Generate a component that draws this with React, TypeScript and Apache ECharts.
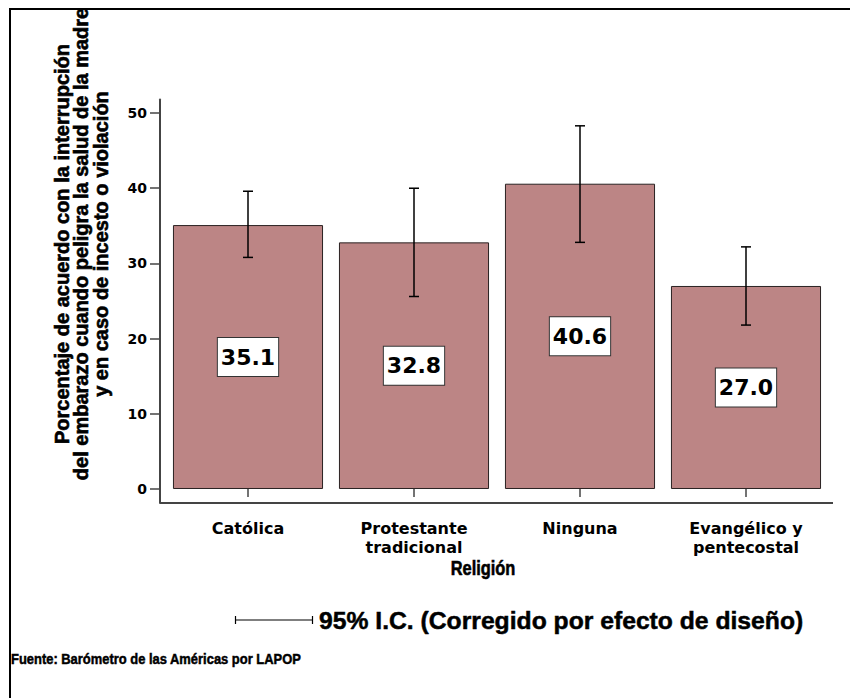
import React, { useEffect, useRef } from "react";
import * as echarts from "echarts";

const categories = ["Católica", "Protestante\ntradicional", "Ninguna", "Evangélico y\npentecostal"];
const values = [35.1, 32.8, 40.6, 27.0];
const ciLow = [30.8, 25.6, 32.8, 21.8];
const ciHigh = [39.6, 40.0, 48.3, 32.2];
const yTicks = [0, 10, 20, 30, 40, 50];
const yTitleLines = [
  "Porcentaje de acuerdo con la interrupción",
  "del embarazo cuando peligra la salud de la madre",
  "y en caso de incesto o violación",
];
const xTitle = "Religión";
const legendText = "95% I.C. (Corregido por efecto de diseño)";
const footerText = "Fuente: Barómetro de las Américas por LAPOP";

const ARIAL = "Liberation Sans";
const DEJA = "DejaVu Sans";

export default function App() {
  const ref = useRef<HTMLDivElement>(null);
  useEffect(() => {
    if (!ref.current) return;
    const chart = echarts.init(ref.current, null, { renderer: "svg" });
    const option: any = {
      animation: false,
      backgroundColor: "#ffffff",
      grid: { left: 165, right: 21, top: 99.5, bottom: 195.1, containLabel: false },
      xAxis: {
        type: "category",
        data: categories,
        axisLine: { show: false },
        axisTick: { show: true, alignWithLabel: true, length: 8, lineStyle: { color: "#444", width: 1.5 } },
        axisLabel: {
          margin: 16,
          color: "#000",
          fontFamily: DEJA,
          fontWeight: "bold",
          fontSize: 16,
          lineHeight: 19,
        },
      },
      yAxis: {
        type: "value",
        min: -1.85,
        max: 51.8,
        offset: 5,
        splitLine: { show: false },
        axisLine: { show: true, lineStyle: { color: "#444", width: 2 } },
        axisTick: { show: true, length: 10, customValues: yTicks, lineStyle: { color: "#444", width: 1.5 } },
        axisLabel: {
          customValues: yTicks,
          margin: 13,
          color: "#000",
          fontFamily: DEJA,
          fontWeight: "bold",
          fontSize: 14,
        },
      },
      series: [
        {
          type: "bar",
          data: values,
          barCategoryGap: "9.6%",
          itemStyle: { color: "#bc8585", borderColor: "#2a2222", borderWidth: 1 },
          label: {
            show: true,
            position: "inside",
            formatter: (p: any) => Number(p.value).toFixed(1),
            color: "#000",
            fontFamily: DEJA,
            fontWeight: "bold",
            fontSize: 22,
            lineHeight: 24,
            backgroundColor: "#ffffff",
            borderColor: "#333",
            borderWidth: 1,
            padding: [7, 3, 7, 3],
          },
          z: 2,
        },
        {
          type: "custom",
          data: categories.map((c, i) => [i, ciLow[i], ciHigh[i]]),
          encode: { x: 0, y: [1, 2] },
          z: 3,
          renderItem: (params: any, api: any) => {
            const lo = api.coord([api.value(0), api.value(1)]);
            const hi = api.coord([api.value(0), api.value(2)]);
            const x = lo[0];
            const hw = 5;
            const st = { stroke: "#000", lineWidth: 1.5 };
            return {
              type: "group",
              children: [
                { type: "line", shape: { x1: x, y1: lo[1], x2: x, y2: hi[1] }, style: st },
                { type: "line", shape: { x1: x - hw, y1: lo[1], x2: x + hw, y2: lo[1] }, style: st },
                { type: "line", shape: { x1: x - hw, y1: hi[1], x2: x + hw, y2: hi[1] }, style: st },
              ],
            };
          },
        },
      ],
      graphic: [
        { type: "rect", shape: { x: 10, y: 9, width: 900, height: 900 }, style: { fill: "none", stroke: "#000", lineWidth: 2 }, silent: true },
        { type: "line", shape: { x1: 160, y1: 502.9, x2: 833, y2: 502.9 }, style: { stroke: "#444", lineWidth: 2 } },
        {
          type: "text",
          x: 81,
          y: 244,
          rotation: Math.PI / 2,
          style: {
            text: yTitleLines.join("\n"),
            fontFamily: ARIAL,
            fontWeight: "bold",
            fontSize: 20,
            fill: "#000",
            stroke: "#000",
            lineWidth: 0.6,
            align: "center",
            verticalAlign: "middle",
            lineHeight: 19.5,
          },
        },
        {
          type: "text",
          x: 483,
          y: 568,
          scaleX: 0.8,
          style: { text: xTitle, fontFamily: ARIAL, fontWeight: "bold", fontSize: 20.5, fill: "#000", stroke: "#000", lineWidth: 0.6, align: "center", verticalAlign: "middle" },
        },
        { type: "line", shape: { x1: 235, y1: 620, x2: 313, y2: 620 }, style: { stroke: "#000", lineWidth: 1.2 } },
        { type: "line", shape: { x1: 235.5, y1: 616, x2: 235.5, y2: 624 }, style: { stroke: "#000", lineWidth: 1.2 } },
        { type: "line", shape: { x1: 312.5, y1: 616, x2: 312.5, y2: 624 }, style: { stroke: "#000", lineWidth: 1.2 } },
        {
          type: "text",
          x: 319,
          y: 620,
          style: { text: legendText, fontFamily: ARIAL, fontWeight: "bold", fontSize: 24.7, fill: "#000", stroke: "#000", lineWidth: 0.5, align: "left", verticalAlign: "middle" },
        },
        {
          type: "text",
          x: 11,
          y: 659,
          scaleX: 0.835,
          style: { text: footerText, fontFamily: ARIAL, fontWeight: "bold", fontSize: 15.5, fill: "#000", stroke: "#000", lineWidth: 0.5, align: "left", verticalAlign: "middle" },
        },
      ],
    };
    chart.setOption(option);
    return () => chart.dispose();
  }, []);
  return <div ref={ref} style={{ position: "absolute", left: 0, top: 0, width: 850, height: 698 }} />;
}
